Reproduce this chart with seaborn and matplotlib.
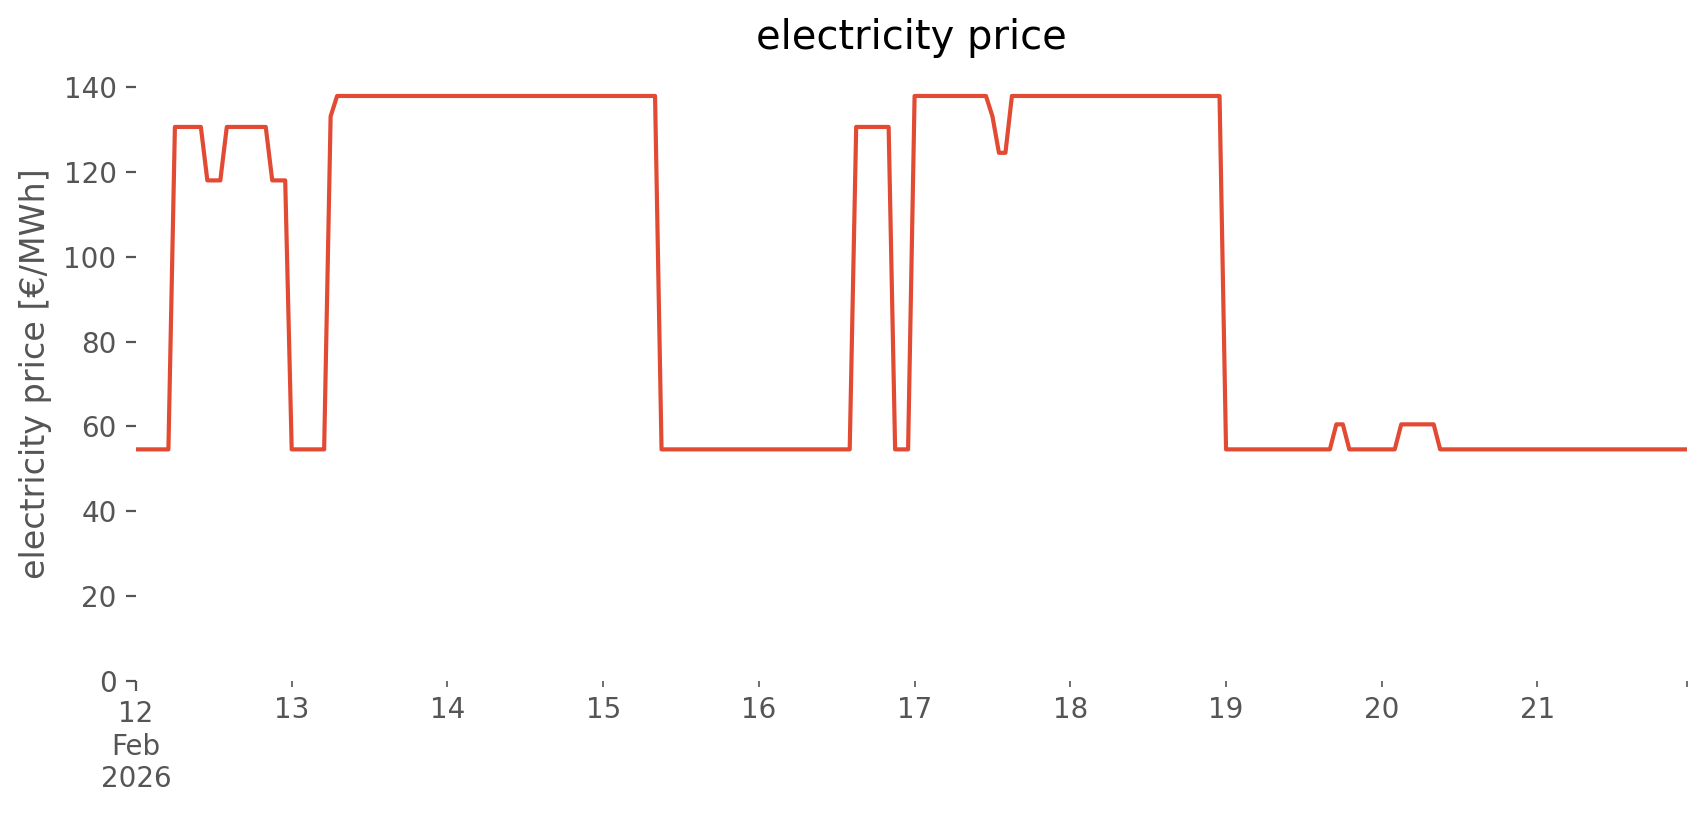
import numpy as np
import pandas as pd
import matplotlib
matplotlib.use("Agg")
import matplotlib.pyplot as plt
import matplotlib.dates as mdates
import matplotlib.ticker as mticker
import seaborn as sns

# hourly electricity price [EUR/MWh], 12 Feb 2026 00:00 .. 21 Feb 2026 23:00
day_12 = [54.6, 54.6, 54.6, 54.6, 54.6, 54.6, 130.6, 130.6, 130.6, 130.6, 130.6, 118.0,
          118.0, 118.0, 130.6, 130.6, 130.6, 130.6, 130.6, 130.6, 130.6, 118.0, 118.0, 118.0]
day_13 = [54.6, 54.6, 54.6, 54.6, 54.6, 54.6, 133.1, 137.9, 137.9, 137.9, 137.9, 137.9,
          137.9, 137.9, 137.9, 137.9, 137.9, 137.9, 137.9, 137.9, 137.9, 137.9, 137.9, 137.9]
day_14 = [137.9, 137.9, 137.9, 137.9, 137.9, 137.9, 137.9, 137.9, 137.9, 137.9, 137.9, 137.9,
          137.9, 137.9, 137.9, 137.9, 137.9, 137.9, 137.9, 137.9, 137.9, 137.9, 137.9, 137.9]
day_15 = [137.9, 137.9, 137.9, 137.9, 137.9, 137.9, 137.9, 137.9, 137.9, 54.6, 54.6, 54.6,
          54.6, 54.6, 54.6, 54.6, 54.6, 54.6, 54.6, 54.6, 54.6, 54.6, 54.6, 54.6]
day_16 = [54.6, 54.6, 54.6, 54.6, 54.6, 54.6, 54.6, 54.6, 54.6, 54.6, 54.6, 54.6,
          54.6, 54.6, 54.6, 130.6, 130.6, 130.6, 130.6, 130.6, 130.6, 54.6, 54.6, 54.6]
day_17 = [137.9, 137.9, 137.9, 137.9, 137.9, 137.9, 137.9, 137.9, 137.9, 137.9, 137.9, 137.9,
          133.1, 124.5, 124.5, 137.9, 137.9, 137.9, 137.9, 137.9, 137.9, 137.9, 137.9, 137.9]
day_18 = [137.9, 137.9, 137.9, 137.9, 137.9, 137.9, 137.9, 137.9, 137.9, 137.9, 137.9, 137.9,
          137.9, 137.9, 137.9, 137.9, 137.9, 137.9, 137.9, 137.9, 137.9, 137.9, 137.9, 137.9]
day_19 = [54.6, 54.6, 54.6, 54.6, 54.6, 54.6, 54.6, 54.6, 54.6, 54.6, 54.6, 54.6,
          54.6, 54.6, 54.6, 54.6, 54.6, 60.5, 60.5, 54.6, 54.6, 54.6, 54.6, 54.6]
day_20 = [54.6, 54.6, 54.6, 60.5, 60.5, 60.5, 60.5, 60.5, 60.5, 54.6, 54.6, 54.6,
          54.6, 54.6, 54.6, 54.6, 54.6, 54.6, 54.6, 54.6, 54.6, 54.6, 54.6, 54.6]
day_21 = [54.6, 54.6, 54.6, 54.6, 54.6, 54.6, 54.6, 54.6, 54.6, 54.6, 54.6, 54.6,
          54.6, 54.6, 54.6, 54.6, 54.6, 54.6, 54.6, 54.6, 54.6, 54.6, 54.6, 54.6]

day_labels = ["12\nFeb\n2026", "13", "14", "15", "16", "17", "18", "19", "20", "21"]
y_ticks = [0, 20, 40, 60, 80, 100, 120, 140]

prices = day_12 + day_13 + day_14 + day_15 + day_16 + day_17 + day_18 + day_19 + day_20 + day_21
times = pd.date_range("2026-02-12 00:00", periods=len(prices), freq="h")
df = pd.DataFrame({"time": times, "price": prices})

plt.style.use("ggplot")
plt.rcParams["axes.facecolor"] = "white"
plt.rcParams["figure.facecolor"] = "white"

fig = plt.figure(figsize=(8.53, 4.075), dpi=200)
ax = fig.add_axes([0.0797, 0.1644, 0.909, 0.7548])

sns.lineplot(data=df, x="time", y="price", color="#E24A33", linewidth=1.5, ax=ax)

ax.grid(False)
for s in ax.spines.values():
    s.set_visible(False)

ax.set_xlim(times[0], times[-1])
ax.set_ylim(0, 145)
ax.set_yticks(y_ticks)

days = pd.date_range("2026-02-12", periods=len(day_labels), freq="D")
ax.xaxis.set_major_locator(mticker.FixedLocator([mdates.date2num(days[0])]))
ax.xaxis.set_major_formatter(mticker.FixedFormatter([day_labels[0]]))
minor_pos = [mdates.date2num(d) for d in days[1:]] + [mdates.date2num(times[-1])]
ax.xaxis.set_minor_locator(mticker.FixedLocator(minor_pos))
ax.xaxis.set_minor_formatter(mticker.FixedFormatter(day_labels[1:] + [""]))

ax.tick_params(axis="x", which="major", length=3.5, color="#555555", labelcolor="#555555", labelsize=10)
ax.tick_params(axis="x", which="minor", length=2, color="#555555", labelcolor="#555555", labelsize=10, pad=3.5)
ax.tick_params(axis="y", length=3.5, color="#555555", labelcolor="#555555", labelsize=10)
ax.tick_params(axis="y", which="minor", left=False)

ax.set_xlabel("")
ax.set_ylabel("electricity price [€/MWh]", fontsize=12, color="#555555")
ax.set_title("electricity price", fontsize=14.4, color="black")

fig.savefig("out.png", dpi=200)
